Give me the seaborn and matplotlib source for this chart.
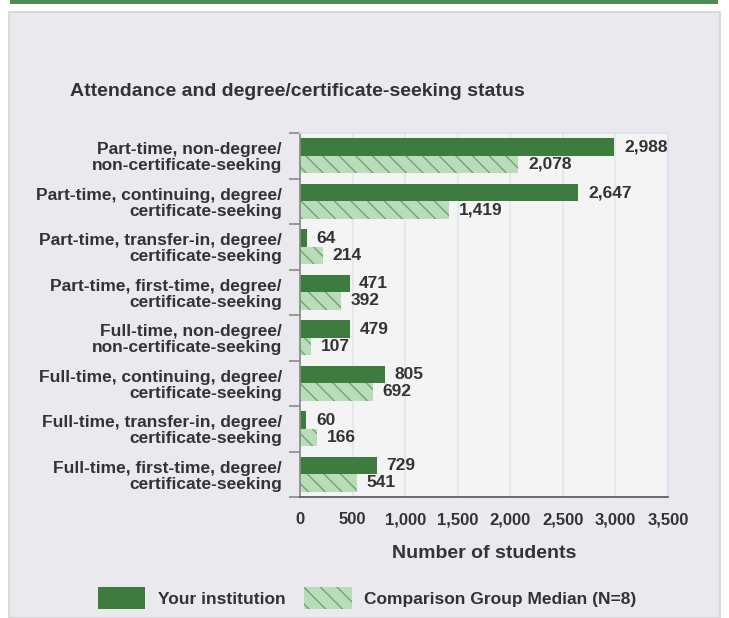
import pandas as pd
import matplotlib
matplotlib.use("Agg")
import matplotlib.pyplot as plt
import matplotlib.patches as mpatches
from matplotlib.ticker import FixedLocator, FuncFormatter
import seaborn as sns

sns.set_theme(style="white")
plt.rcParams["font.family"] = ["Liberation Sans", "DejaVu Sans"]
plt.rcParams["hatch.linewidth"] = 1.0

CATEGORIES = [
    "Part-time, non-degree/\nnon-certificate-seeking",
    "Part-time, continuing, degree/\ncertificate-seeking",
    "Part-time, transfer-in, degree/\ncertificate-seeking",
    "Part-time, first-time, degree/\ncertificate-seeking",
    "Full-time, non-degree/\nnon-certificate-seeking",
    "Full-time, continuing, degree/\ncertificate-seeking",
    "Full-time, transfer-in, degree/\ncertificate-seeking",
    "Full-time, first-time, degree/\ncertificate-seeking",
]
YOUR_INSTITUTION = [2988, 2647, 64, 471, 479, 805, 60, 729]
COMPARISON_MEDIAN = [2078, 1419, 214, 392, 107, 692, 166, 541]
SERIES = ["Your institution", "Comparison Group Median (N=8)"]
X_TICKS = [0, 500, 1000, 1500, 2000, 2500, 3000, 3500]

DARK = "#3e7b3e"
LIGHT = "#badcba"
HATCH_COLOR = "#6aa86a"
TEXT = "#333333"

df = pd.DataFrame({
    "category": CATEGORIES * 2,
    "group": [SERIES[0]] * len(CATEGORIES) + [SERIES[1]] * len(CATEGORIES),
    "value": YOUR_INSTITUTION + COMPARISON_MEDIAN,
})

W, H = 729, 618
fig = plt.figure(figsize=(W / 100, H / 100), dpi=100)
fig.patch.set_facecolor("white")

# grey panel and green top strip
fig.patches.append(mpatches.Rectangle((9 / W, 0), 711 / W, 1 - 12 / H, transform=fig.transFigure,
                                      facecolor="#e9e9ee", edgecolor="#d4d4d8", linewidth=1.2, zorder=-2))
fig.patches.append(mpatches.Rectangle((10 / W, 1 - 4 / H), 708 / W, 4 / H, transform=fig.transFigure,
                                      facecolor="#4f8b4f", edgecolor="none", zorder=-2))

ax = fig.add_axes([300 / W, 1 - 497 / H, 368 / W, 364 / H])
ax.set_facecolor("#f4f4f5")

sns.barplot(data=df, y="category", x="value", hue="group", orient="h",
            palette=[DARK, LIGHT], width=0.76, dodge=True, legend=False, ax=ax,
            linewidth=0, saturation=1)

for patch in ax.containers[1]:
    patch.set_hatch("\\\\")
    patch.set_edgecolor(HATCH_COLOR)
    patch.set_linewidth(0)

for cont, vals in zip(ax.containers, [YOUR_INSTITUTION, COMPARISON_MEDIAN]):
    ax.bar_label(cont, labels=[f"{v:,}" for v in vals], padding=7,
                 fontsize=12.5, fontweight="bold", color=TEXT)

ax.set_xlim(0, 3500)
ax.set_ylim(len(CATEGORIES) - 0.5, -0.5)
ax.xaxis.set_major_locator(FixedLocator(X_TICKS))
ax.xaxis.set_major_formatter(FuncFormatter(lambda v, p: f"{int(v):,}"))
ax.grid(axis="x", color="#e0e6f0", linewidth=1.2)
ax.set_axisbelow(True)

ax.yaxis.set_minor_locator(FixedLocator([i - 0.5 for i in range(len(CATEGORIES) + 1)]))
ax.tick_params(axis="y", which="minor", length=8, width=1.2, color="#8a8a8a", left=True)
ax.tick_params(axis="y", which="major", length=0, pad=13, labelsize=12.5, labelcolor=TEXT)
ax.tick_params(axis="x", length=0, pad=11, labelsize=12, labelcolor=TEXT)
for lbl in ax.get_yticklabels() + ax.get_xticklabels():
    lbl.set_fontweight("bold")
for lbl in ax.get_yticklabels():
    lbl.set_linespacing(1.1)

for side in ["top", "right"]:
    ax.spines[side].set_color("#dce3ee")
ax.spines["left"].set_color("#8a8a8a")
ax.spines["bottom"].set_color("#555555")
ax.spines["bottom"].set_linewidth(1.2)

ax.set_ylabel("")
ax.set_xlabel("Number of students", fontsize=14, fontweight="bold", color=TEXT, labelpad=13)

fig.text(70 / W, 1 - 92 / H, "Attendance and degree/certificate-seeking status",
         fontsize=14, fontweight="bold", color=TEXT, va="center", ha="left")

handles = [
    mpatches.Patch(facecolor=DARK, edgecolor=DARK, linewidth=0, label=SERIES[0]),
    mpatches.Patch(facecolor=LIGHT, edgecolor=HATCH_COLOR, linewidth=0, hatch="\\\\", label=SERIES[1]),
]
fig.legend(handles=handles, loc="center", bbox_to_anchor=(367 / W, 1 - 598 / H), ncol=2,
           frameon=False, handlelength=2.75, handleheight=1.5, handletextpad=0.7,
           columnspacing=1.1, prop={"weight": "bold", "size": 12.5}, labelcolor=TEXT)

fig.savefig("out.png", dpi=100)
